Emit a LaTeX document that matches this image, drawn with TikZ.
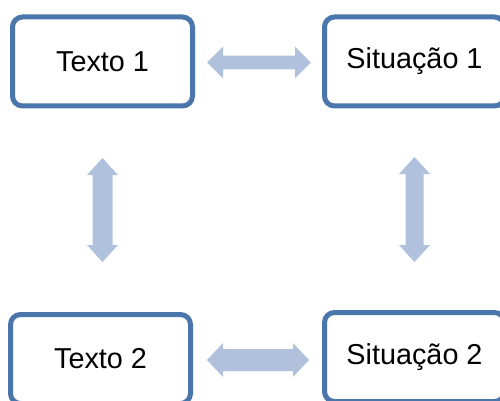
\documentclass[tikz,border=0pt]{standalone}
\usepackage{fontspec}
\setmainfont{Liberation Sans}
\usetikzlibrary{calc}
\definecolor{boxblue}{RGB}{74,118,172}
\definecolor{arrowblue}{RGB}{176,193,221}
\newcommand\hdarrow[5]{% left tip, right tip, head half, shaft half, head length
  \fill[arrowblue] (#1) -- ($(#1)+(#5,#3)$) -- ($(#1)+(#5,#4)$) -- ($(#2)+(-#5,#4)$) -- ($(#2)+(-#5,#3)$) -- (#2)
    -- ($(#2)+(-#5,-#3)$) -- ($(#2)+(-#5,-#4)$) -- ($(#1)+(#5,-#4)$) -- ($(#1)+(#5,-#3)$) -- cycle;}
\newcommand\vdarrow[5]{% top tip, bottom tip, head half, shaft half, head length
  \fill[arrowblue] (#1) -- ($(#1)+(#3,#5)$) -- ($(#1)+(#4,#5)$) -- ($(#2)+(#4,-#5)$) -- ($(#2)+(#3,-#5)$) -- (#2)
    -- ($(#2)+(-#3,-#5)$) -- ($(#2)+(-#4,-#5)$) -- ($(#1)+(-#4,#5)$) -- ($(#1)+(-#3,#5)$) -- cycle;}
\tikzset{
  box/.style={draw=boxblue, line width=5pt, rounded corners=10pt, fill=white,
    minimum width=180pt, minimum height=89pt, inner sep=0pt,
    font=\fontsize{28.8}{33}\selectfont, text=black}
}
\begin{document}
\begin{tikzpicture}[x=1pt,y=-1pt]
\useasboundingbox (0,0) rectangle (500,401);
\clip (0,0) rectangle (500,401);
\node[box] (t1) at (102.5,61.5) {Texto 1};
\node[box] (s1) at (414.5,61.5) {Situação 1};
\node[box] (t2) at (100.5,359) {Texto 2};
\node[box] (s2) at (414.5,357) {Situação 2};
% horizontal arrows
\coordinate (a1) at ($(t1.east)+(12,1)$);
\coordinate (b1) at ($(a1 -| s1.west)+(-11,0)$);
\hdarrow{a1}{b1}{15.8}{6.8}{16}
\coordinate (a2) at ($(t2.east)+(14,1)$);
\coordinate (b2) at ($(a2 -| s2.west)+(-13,0)$);
\hdarrow{a2}{b2}{17}{11}{16}
% vertical arrows
\coordinate (c1) at ($(t1.south)+(0,49.5)$);
\coordinate (d1) at ($(c1 |- t2.north)+(0,-50)$);
\vdarrow{c1}{d1}{15.5}{10}{17}
\coordinate (c2) at ($(s1.south)+(0,48.5)$);
\coordinate (d2) at ($(c2 |- s2.north)+(0,-48)$);
\vdarrow{c2}{d2}{15.5}{9}{17}
\end{tikzpicture}
\end{document}
